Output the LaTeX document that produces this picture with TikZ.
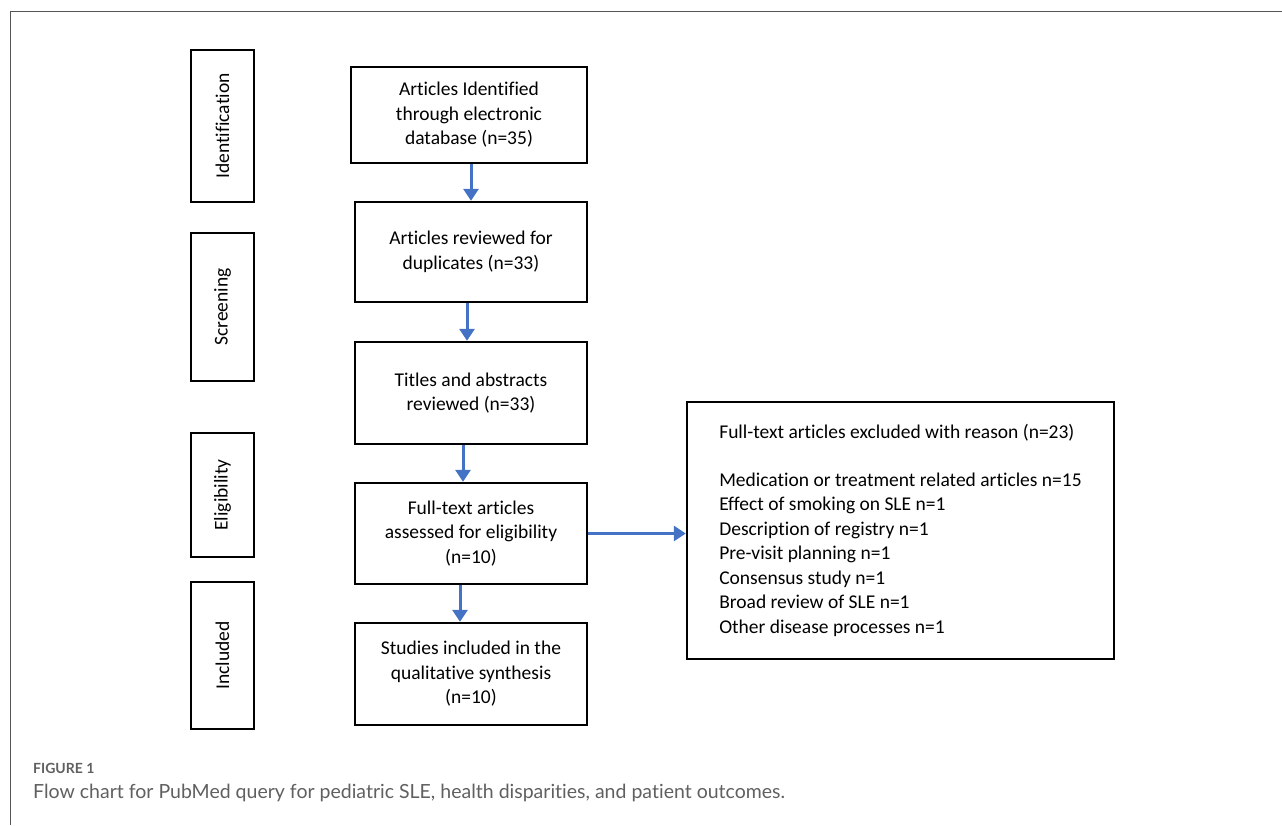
\documentclass[tikz,border=0pt]{standalone}
\usepackage{fontspec}
\setmainfont{Carlito}[Ligatures=NoCommon]
\newfontfamily\capfont{Lato}[Ligatures=NoCommon]
\usetikzlibrary{arrows.meta}
\definecolor{arrblue}{HTML}{4472C4}
\definecolor{capgray}{HTML}{606060}
\definecolor{framegray}{HTML}{555555}
\tikzset{
  box/.style={draw=black, line width=2.4pt, align=center, inner sep=0pt,
    font=\fontsize{19.5}{24.5}\selectfont},
  phase/.style={draw=black, line width=2.4pt, minimum width=63pt, inner sep=0pt,
    font=\fontsize{19.5}{22}\selectfont},
  arr/.style={draw=arrblue, line width=3pt, -{Triangle[width=15pt,length=12pt]}},
}
\begin{document}
\begin{tikzpicture}[x=1pt,y=-1pt]
\useasboundingbox (0,0) rectangle (1282,825);
\draw[framegray, line width=1pt] (1282,11) -- (10,11) -- (10,825);

% phase boxes
\node[phase, minimum height=152pt] (id) at (222.5,126) {\rotatebox{90}{Identification}};
\node[phase, minimum height=148pt] (sc) at (222.5,307) {\rotatebox{90}{Screening}};
\node[phase, minimum height=124pt] (el) at (222.5,495) {\rotatebox{90}{Eligibility}};
\node[phase, minimum height=147pt] (in) at (222.5,655.5) {\rotatebox{90}{Included}};

% main boxes
\node[box, minimum width=236pt, minimum height=96pt] (b1) at (469,115) {Articles Identified\\through electronic\\database (n=35)};
\node[box, minimum width=232pt, minimum height=100pt] (b2) at (471,252) {Articles reviewed for\\duplicates (n=33)};
\node[box, minimum width=232pt, minimum height=102pt] (b3) at (471,393) {Titles and abstracts\\reviewed (n=33)};
\node[box, minimum width=232pt, minimum height=101pt] (b4) at (471,533.5) {Full-text articles\\assessed for eligibility\\(n=10)};
\node[box, minimum width=232pt, minimum height=102pt] (b5) at (471,674) {Studies included in the\\qualitative synthesis\\(n=10)};

\node[box, align=left, minimum width=427pt, minimum height=257pt] (ex) at (900.5,530.5)
 {Full-text articles excluded with reason (n=23)\\[23pt]
  Medication or treatment related articles n=15\\
  Effect of smoking on SLE n=1\\
  Description of registry n=1\\
  Pre-visit planning n=1\\
  Consensus study n=1\\
  Broad review of SLE n=1\\
  Other disease processes n=1};

% arrows
\coordinate (a1) at (471,0);
\coordinate (a2) at (467,0);
\coordinate (a3) at (463,0);
\coordinate (a4) at (460,0);
\draw[arr] (a1 |- b1.south) -- (a1 |- b2.north);
\draw[arr] (a2 |- b2.south) -- (a2 |- b3.north);
\draw[arr] (a3 |- b3.south) -- (a3 |- b4.north);
\draw[arr] (a4 |- b4.south) -- (a4 |- b5.north);
\draw[arr] (b4.east) -- (ex.west |- b4.east);

% caption
\node[anchor=west, inner sep=0pt, text=capgray, font=\capfont\bfseries\fontsize{14}{16}\selectfont] (fig) at (33,768) {FIGURE 1};
\node[anchor=west, inner sep=0pt, text=capgray, font=\capfont\fontsize{19.5}{22}\selectfont] (cap) at (33,793) {Flow chart for PubMed query for pediatric SLE, health disparities, and patient outcomes.};
\end{tikzpicture}
\end{document}
